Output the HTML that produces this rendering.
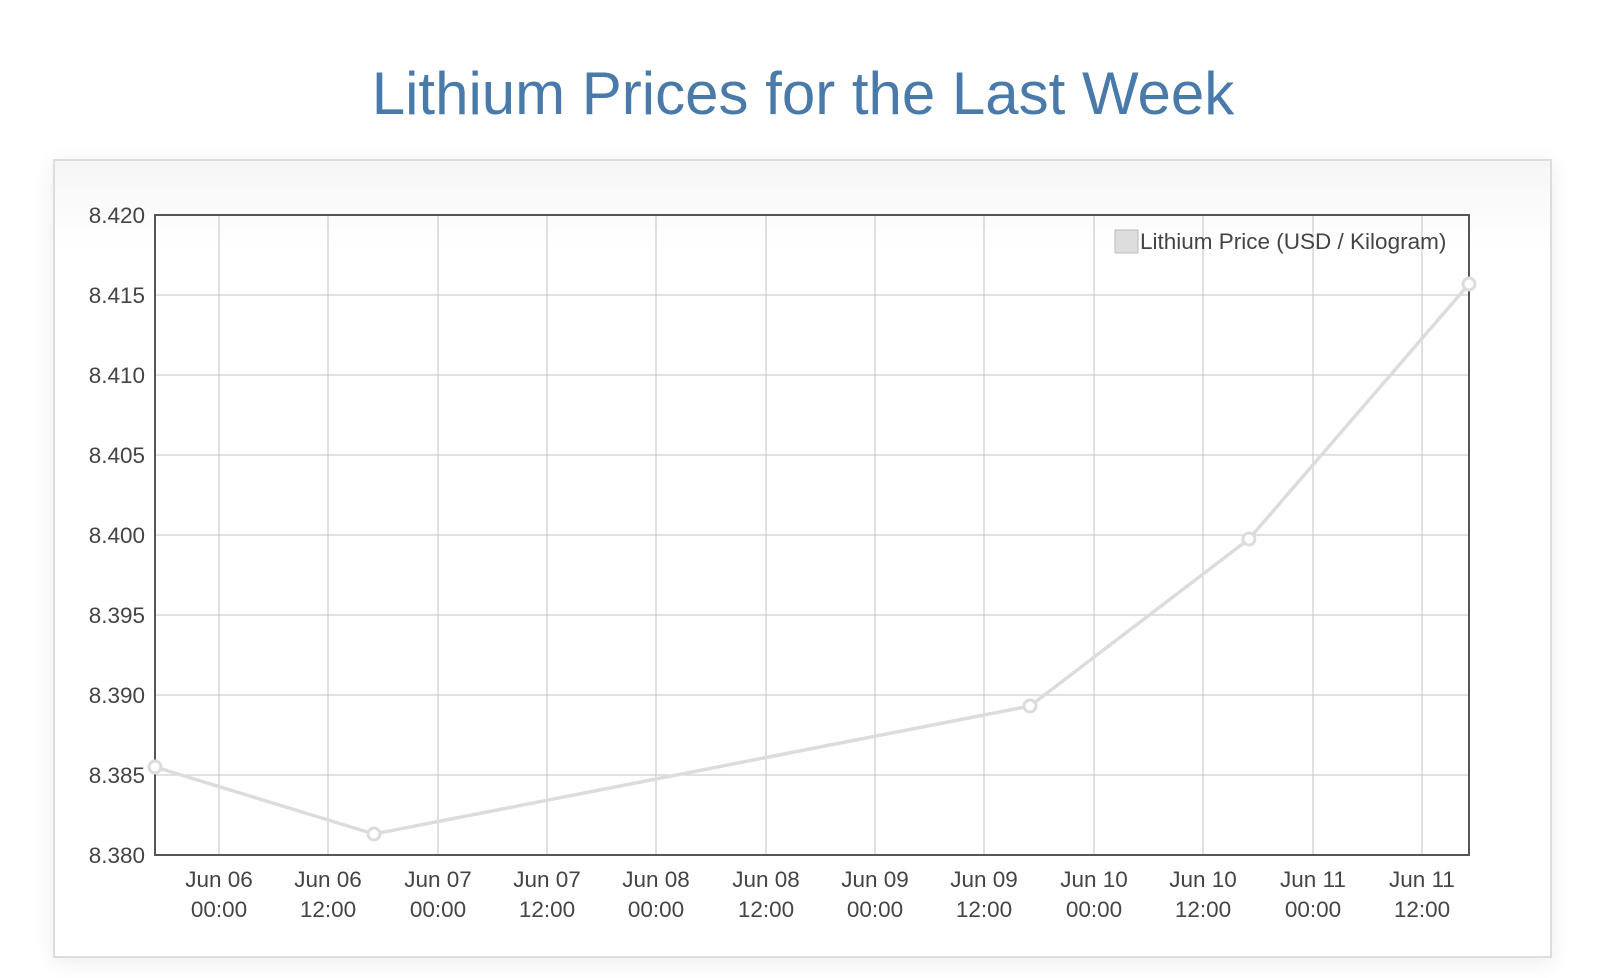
<!DOCTYPE html>
<html><head><style>
body{margin:0;width:1618px;height:978px;background:#fff;overflow:hidden;font-family:"Liberation Sans",Arial,sans-serif;}
h1{position:absolute;left:0;width:1618px;top:59px;margin:0;text-align:center;font-weight:normal;font-size:60px;color:#4a7aaa;}
.box{position:absolute;left:53px;top:159px;width:1495px;height:795px;border:2px solid #ddd;background:linear-gradient(#f6f6f6,#fff 90px);box-shadow:0 4px 20px rgba(0,0,0,0.08);}
svg{position:absolute;left:0;top:0;}
</style></head><body>
<h1 style="left:-6px">Lithium Prices for the Last Week</h1>
<div class="box"></div>
<svg width="1618" height="978" font-family="Liberation Sans, Arial, sans-serif" font-size="22.5" fill="#444">
<g stroke="#cfcfcf" stroke-width="1.3">
<line x1="155" x2="1469" y1="295" y2="295"/><line x1="155" x2="1469" y1="375" y2="375"/><line x1="155" x2="1469" y1="455" y2="455"/><line x1="155" x2="1469" y1="535" y2="535"/><line x1="155" x2="1469" y1="615" y2="615"/><line x1="155" x2="1469" y1="695" y2="695"/><line x1="155" x2="1469" y1="775" y2="775"/>
<line x1="219" x2="219" y1="215" y2="855"/><line x1="328" x2="328" y1="215" y2="855"/><line x1="438" x2="438" y1="215" y2="855"/><line x1="547" x2="547" y1="215" y2="855"/><line x1="656" x2="656" y1="215" y2="855"/><line x1="766" x2="766" y1="215" y2="855"/><line x1="875" x2="875" y1="215" y2="855"/><line x1="984" x2="984" y1="215" y2="855"/><line x1="1094" x2="1094" y1="215" y2="855"/><line x1="1203" x2="1203" y1="215" y2="855"/><line x1="1313" x2="1313" y1="215" y2="855"/><line x1="1422" x2="1422" y1="215" y2="855"/>
</g>
<rect x="155" y="215" width="1314" height="640" fill="none" stroke="#555" stroke-width="2"/>
<g text-anchor="end">
<text x="145" y="223">8.420</text><text x="145" y="303">8.415</text><text x="145" y="383">8.410</text><text x="145" y="463">8.405</text><text x="145" y="543">8.400</text><text x="145" y="623">8.395</text><text x="145" y="703">8.390</text><text x="145" y="783">8.385</text><text x="145" y="863">8.380</text>
</g>
<g text-anchor="middle">
<text x="219" y="887">Jun 06</text><text x="219" y="917">00:00</text>
<text x="328" y="887">Jun 06</text><text x="328" y="917">12:00</text>
<text x="438" y="887">Jun 07</text><text x="438" y="917">00:00</text>
<text x="547" y="887">Jun 07</text><text x="547" y="917">12:00</text>
<text x="656" y="887">Jun 08</text><text x="656" y="917">00:00</text>
<text x="766" y="887">Jun 08</text><text x="766" y="917">12:00</text>
<text x="875" y="887">Jun 09</text><text x="875" y="917">00:00</text>
<text x="984" y="887">Jun 09</text><text x="984" y="917">12:00</text>
<text x="1094" y="887">Jun 10</text><text x="1094" y="917">00:00</text>
<text x="1203" y="887">Jun 10</text><text x="1203" y="917">12:00</text>
<text x="1313" y="887">Jun 11</text><text x="1313" y="917">00:00</text>
<text x="1422" y="887">Jun 11</text><text x="1422" y="917">12:00</text>
</g>
<polyline points="155,767 374,834 1030,706 1249,539 1469,284" fill="none" stroke="#dcdcdc" stroke-width="3.5"/>
<g fill="#fff" stroke="#dcdcdc" stroke-width="3">
<circle cx="155" cy="767" r="6"/><circle cx="374" cy="834" r="6"/><circle cx="1030" cy="706" r="6"/><circle cx="1249" cy="539" r="6"/><circle cx="1469" cy="284" r="6"/>
</g>
<rect x="1115" y="230" width="23" height="23" fill="#ddd" stroke="#bbb" stroke-width="1"/>
<text x="1140" y="249">Lithium Price (USD / Kilogram)</text>
</svg>
</body></html>
